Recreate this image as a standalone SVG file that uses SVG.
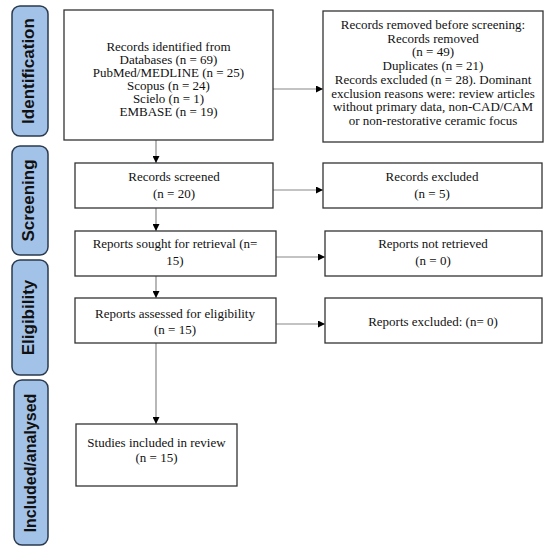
<svg xmlns="http://www.w3.org/2000/svg" width="550" height="556" viewBox="0 0 550 556">
<style>
.box{fill:#fff;stroke:#333;stroke-width:1.3}
.side{fill:#a3c2e8;stroke:#2b3a4e;stroke-width:1.5}
.t{font-family:"Liberation Serif","Times New Roman",serif;font-size:13px;fill:#111;text-anchor:middle}
.s{font-family:"Liberation Sans",Arial,sans-serif;font-size:17px;font-weight:bold;fill:#111;text-anchor:middle}
.c{stroke:#888;stroke-width:1.2;fill:none;marker-end:url(#ah)}
</style>
<defs>
<marker id="ah" viewBox="0 0 10 10" refX="10" refY="5" markerWidth="7" markerHeight="7" markerUnits="userSpaceOnUse" orient="auto">
<path d="M0,0 L10,5 L0,10 z" fill="#000"/>
</marker>
</defs>
<rect width="550" height="556" fill="#fff"/>
<g id="phase-identification">
<rect class="side" x="12" y="6" width="36" height="130" rx="8"/>
<text class="s" transform="translate(34,71) rotate(-90)">Identification</text>
</g>
<g id="phase-screening">
<rect class="side" x="12" y="146" width="36" height="109" rx="8"/>
<text class="s" transform="translate(34,200.5) rotate(-90)">Screening</text>
</g>
<g id="phase-eligibility">
<rect class="side" x="12" y="260" width="36" height="115" rx="8"/>
<text class="s" transform="translate(34,317.5) rotate(-90)">Eligibility</text>
</g>
<g id="phase-included">
<rect class="side" x="14" y="380" width="34" height="165" rx="8"/>
<text class="s" style="font-size:16px" transform="translate(36,463) rotate(-90)">Included/analysed</text>
</g>
<g id="connectors">
<line class="c" x1="156" y1="140" x2="156" y2="163"/>
<line class="c" x1="156" y1="208" x2="156" y2="231"/>
<line class="c" x1="156" y1="276" x2="156" y2="298"/>
<line class="c" x1="156" y1="343" x2="156" y2="424"/>
<line class="c" x1="273" y1="89" x2="323" y2="89"/>
<line class="c" x1="273" y1="190" x2="323" y2="190"/>
<line class="c" x1="276" y1="257" x2="325" y2="257"/>
<line class="c" x1="276" y1="324" x2="325" y2="324"/>
</g>
<g id="records-identified">
<rect class="box" x="64" y="10" width="209" height="130"/>
<text class="t" x="168.5" y="51">Records identified from</text>
<text class="t" x="168.5" y="64">Databases (n = 69)</text>
<text class="t" x="168.5" y="77">PubMed/MEDLINE (n = 25)</text>
<text class="t" x="168.5" y="90">Scopus (n = 24)</text>
<text class="t" x="168.5" y="103">Scielo (n = 1)</text>
<text class="t" x="168.5" y="116">EMBASE (n = 19)</text>
</g>
<g id="records-removed">
<rect class="box" x="323" y="11" width="220" height="131"/>
<text class="t" x="433" y="29">Records removed before screening:</text>
<text class="t" x="433" y="42.7">Records removed</text>
<text class="t" x="433" y="56.4">(n = 49)</text>
<text class="t" x="433" y="70.1">Duplicates (n = 21)</text>
<text class="t" x="433" y="83.8">Records excluded (n = 28). Dominant</text>
<text class="t" x="433" y="97.5">exclusion reasons were: review articles</text>
<text class="t" x="433" y="111.2">without primary data, non-CAD/CAM</text>
<text class="t" x="433" y="124.9">or non-restorative ceramic focus</text>
</g>
<g id="records-screened">
<rect class="box" x="75" y="163" width="198" height="45"/>
<text class="t" x="174" y="181">Records screened</text>
<text class="t" x="174" y="198">(n = 20)</text>
</g>
<g id="records-excluded">
<rect class="box" x="323" y="163" width="219" height="45"/>
<text class="t" x="432" y="181">Records excluded</text>
<text class="t" x="432" y="198">(n = 5)</text>
</g>
<g id="reports-sought">
<rect class="box" x="75" y="231" width="201" height="45"/>
<text class="t" x="175" y="248">Reports sought for retrieval (n=</text>
<text class="t" x="175" y="265">15)</text>
</g>
<g id="reports-not-retrieved">
<rect class="box" x="325" y="231" width="217" height="45"/>
<text class="t" x="433" y="248">Reports not retrieved</text>
<text class="t" x="433" y="265">(n = 0)</text>
</g>
<g id="reports-assessed">
<rect class="box" x="75" y="298" width="201" height="45"/>
<text class="t" x="175" y="318">Reports assessed for eligibility</text>
<text class="t" x="175" y="334">(n = 15)</text>
</g>
<g id="reports-excluded">
<rect class="box" x="325" y="298" width="217" height="45"/>
<text class="t" x="433" y="326">Reports excluded: (n= 0)</text>
</g>
<g id="studies-included">
<rect class="box" x="76" y="424" width="161" height="62"/>
<text class="t" x="156.5" y="447">Studies included in review</text>
<text class="t" x="156.5" y="462">(n = 15)</text>
</g>
</svg>
